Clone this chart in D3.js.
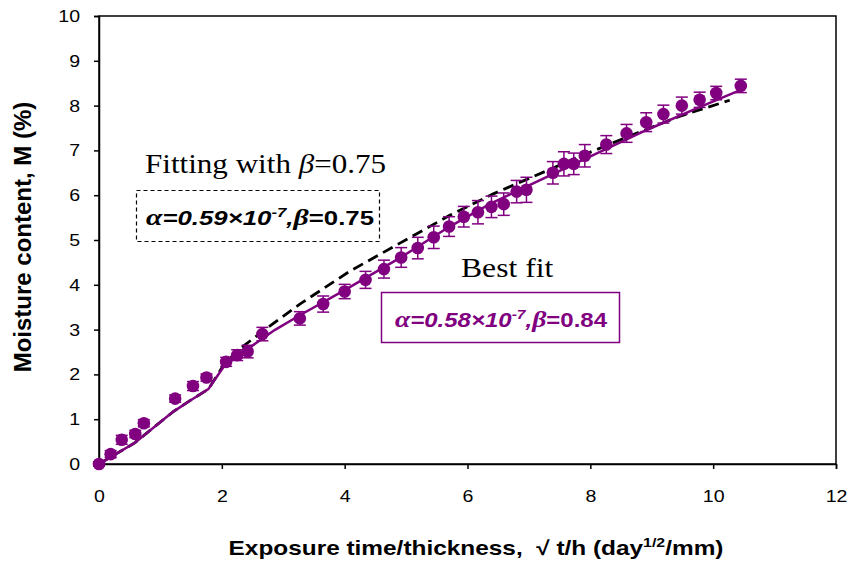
<!DOCTYPE html>
<html>
<head>
<meta charset="utf-8">
<script src="https://cdn.jsdelivr.net/npm/d3@7"></script>
<style>
  html, body { margin: 0; padding: 0; background: #fff; }
  svg { display: block; font-family: "Liberation Sans", Arial, sans-serif; }
</style>
</head>
<body>
<svg id="chart" width="850" height="563"></svg>
<script>
// ---- data ----
const xObs = [0,0.19,0.37,0.59,0.73,1.24,1.53,1.75,2.07,2.25,2.42,2.66,3.27,3.65,4.00,4.34,4.64,4.92,5.19,5.45,5.70,5.94,6.17,6.39,6.59,6.80,6.96,7.39,7.57,7.73,7.91,8.26,8.59,8.91,9.19,9.49,9.78,10.05,10.45];
const yObs = [0,0.22,0.54,0.67,0.91,1.46,1.74,1.93,2.28,2.43,2.51,2.90,3.25,3.57,3.85,4.11,4.35,4.61,4.82,5.06,5.30,5.52,5.62,5.74,5.80,6.08,6.12,6.50,6.70,6.70,6.88,7.13,7.38,7.63,7.81,8.00,8.13,8.28,8.44];
const yErr = [0.05,0.08,0.1,0.08,0.08,0.08,0.1,0.08,0.1,0.12,0.14,0.15,0.15,0.18,0.16,0.19,0.2,0.22,0.24,0.25,0.22,0.23,0.26,0.24,0.25,0.25,0.28,0.25,0.27,0.24,0.25,0.2,0.2,0.21,0.2,0.19,0.17,0.15,0.15];

const bestFitX = [0,0.58,1.21,1.50,1.78,2.05,2.32,2.86,3.27,4.00,4.90,5.71,6.36,7.00,7.82,8.91,9.73,10.45];
const bestFitY = [0,0.47,1.17,1.43,1.67,2.21,2.47,2.99,3.32,3.88,4.60,5.30,5.80,6.22,6.75,7.45,7.94,8.35];

const fit075X = [0,0.58,1.21,1.50,1.78,2.05,2.32,2.78,3.27,4.08,4.90,5.71,6.42,7.01,7.82,8.64,9.45,10.27];
const fit075Y = [0,0.47,1.17,1.43,1.67,2.25,2.60,3.08,3.57,4.30,4.93,5.55,6.03,6.38,6.86,7.32,7.76,8.12];

const xTicks = [0,2,4,6,8,10,12];
const yTicks = [0,1,2,3,4,5,6,7,8,9,10];

// ---- layout ----
const purple = "#800080";
const svg = d3.select("#chart");
const L = 99, T = 16, R = 836, B = 464;
const x = d3.scaleLinear().domain([0, 12]).range([L, R]);
const y = d3.scaleLinear().domain([0, 10]).range([B, T]);
const sans = "'Liberation Sans', Arial, sans-serif";
const serif = "'Liberation Serif', 'Times New Roman', serif";

// frame
svg.append("rect").attr("x", L).attr("y", T).attr("width", R - L).attr("height", B - T)
  .attr("fill", "none").attr("stroke", "#000").attr("stroke-width", 1.5);

// axes
const xAxis = d3.axisBottom(x).tickValues(xTicks).tickSize(5).tickPadding(21).tickFormat(d3.format("d"));
const gx = svg.append("g").attr("transform", `translate(0,${B})`).call(xAxis);
const yAxis = d3.axisLeft(y).tickValues(yTicks).tickSize(5).tickPadding(14).tickFormat(d3.format("d"));
const gy = svg.append("g").attr("transform", `translate(${L},0)`).call(yAxis);
[gx, gy].forEach(g => {
  g.select(".domain").attr("stroke", "#000").attr("stroke-width", 1.5);
  g.selectAll(".tick line").attr("stroke", "#000").attr("stroke-width", 1.5);
  g.selectAll(".tick text").attr("fill", "#000").style("font-size", "17px")
    .style("font-family", sans)
    .each(function () {
      const t = d3.select(this);
      const xx = +t.attr("x") || 0, yy = +t.attr("y") || 0;
      t.attr("x", 0).attr("y", 0).attr("transform", `translate(${xx},${yy}) scale(1.15,1)`);
    });
});

// lines
const line = d3.line().x(d => x(d[0])).y(d => y(d[1]));
svg.append("path").datum(fit075X.map((v, i) => [v, fit075Y[i]]))
  .attr("d", line).attr("fill", "none").attr("stroke", "#000")
  .attr("stroke-width", 2.8).attr("stroke-dasharray", "11,6");
svg.append("path").datum(bestFitX.map((v, i) => [v, bestFitY[i]]))
  .attr("d", line).attr("fill", "none").attr("stroke", purple)
  .attr("stroke-width", 2.5);

// error bars
const obs = xObs.map((v, i) => ({ x: v, y: yObs[i], e: yErr[i] }));
const eb = svg.append("g").attr("stroke", purple).attr("stroke-width", 1.5);
obs.forEach(d => {
  const cx = x(d.x), y1 = y(d.y - d.e), y2 = y(d.y + d.e);
  eb.append("line").attr("x1", cx).attr("x2", cx).attr("y1", y1).attr("y2", y2);
  eb.append("line").attr("x1", cx - 6).attr("x2", cx + 6).attr("y1", y1).attr("y2", y1);
  eb.append("line").attr("x1", cx - 6).attr("x2", cx + 6).attr("y1", y2).attr("y2", y2);
});

// markers
svg.append("g").selectAll("circle").data(obs).join("circle")
  .attr("cx", d => x(d.x)).attr("cy", d => y(d.y)).attr("r", 6.3).attr("fill", purple);

// annotations
function stretched(px, py, sx) {
  return svg.append("text").attr("transform", `translate(${px},${py}) scale(${sx},1)`);
}
const t1 = stretched(145, 173, 1.11)
  .style("font-family", serif).style("font-size", "28px").attr("fill", "#000");
t1.append("tspan").text("Fitting with ");
t1.append("tspan").style("font-style", "italic").text("β");
t1.append("tspan").text("=0.75");

svg.append("rect").attr("x", 136.5).attr("y", 190.5).attr("width", 243).attr("height", 51)
  .attr("fill", "none").attr("stroke", "#000").attr("stroke-width", 1.2).attr("stroke-dasharray", "4,3");

function paramText(px, py, sx, a, b, color) {
  const t = stretched(px, py, sx).attr("fill", color)
    .style("font-size", "20px").style("font-weight", "bold").style("font-family", sans);
  t.append("tspan").style("font-family", serif).style("font-style", "italic").style("font-size", "23px").text("α");
  t.append("tspan").style("font-style", "italic").text("=" + a + "×10");
  t.append("tspan").style("font-style", "italic").style("font-size", "13px").attr("dy", -8).text("-7");
  t.append("tspan").style("font-style", "italic").attr("dy", 8).text(",");
  t.append("tspan").style("font-family", serif).style("font-style", "italic").style("font-size", "23px").text("β");
  t.append("tspan").text("=" + b);
}
paramText(146, 225, 1.29, "0.59", "0.75", "#000");

stretched(461, 277, 1.13)
  .style("font-family", serif).style("font-size", "28px").attr("fill", "#000").text("Best fit");

svg.append("rect").attr("x", 381.5).attr("y", 292.5).attr("width", 238).attr("height", 50)
  .attr("fill", "none").attr("stroke", purple).attr("stroke-width", 1.5);
paramText(395, 327, 1.2, "0.58", "0.84", purple);

// axis titles
svg.append("text").attr("transform", `translate(31,237) rotate(-90)`)
  .attr("text-anchor", "middle").style("font-size", "24px").style("font-weight", "bold")
  .text("Moisture content, M (%)");

const xt = svg.append("text").attr("transform", `translate(476,555) scale(1.22,1)`)
  .attr("text-anchor", "middle")
  .style("font-size", "20px").style("font-weight", "bold");
xt.append("tspan").text("Exposure time/thickness,\u00A0\u00A0√ t/h (day");
xt.append("tspan").style("font-size", "13px").attr("dy", -8).text("1/2");
xt.append("tspan").attr("dy", 8).text("/mm)");
</script>
</body>
</html>
